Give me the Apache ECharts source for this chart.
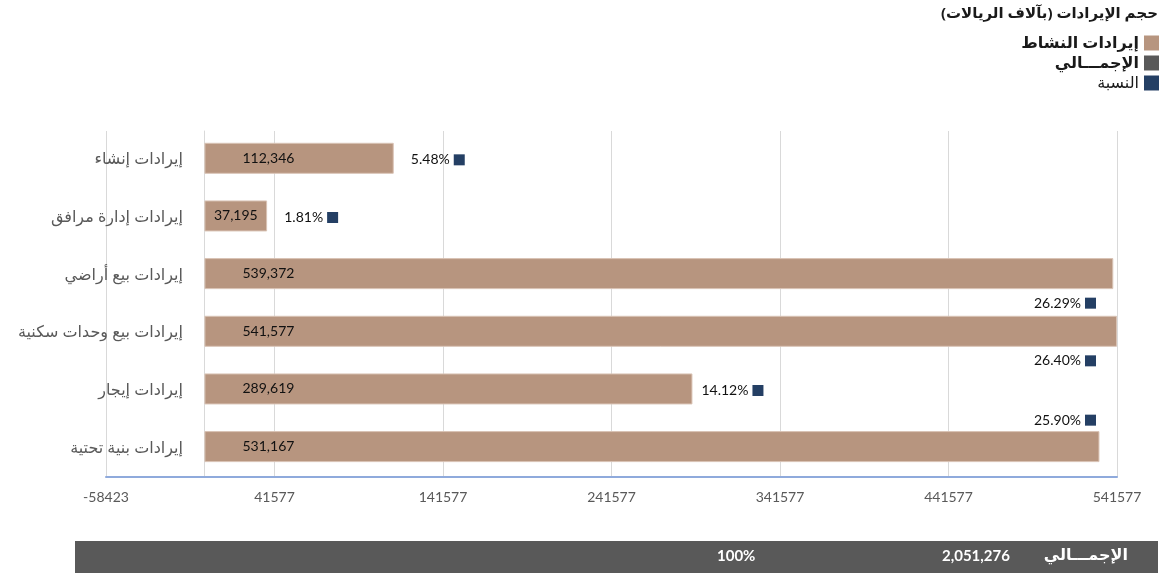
<!DOCTYPE html>
<html>
<head>
<meta charset="utf-8">
<script src="https://cdn.jsdelivr.net/npm/echarts@6/dist/echarts.min.js"></script>
<style>
html,body{margin:0;padding:0;background:#fff;}
#chart{width:1164px;height:573px;}
</style>
</head>
<body>
<div id="chart"></div>
<script>
// ---- data ----
const categories = ['إيرادات إنشاء', 'إيرادات إدارة مرافق', 'إيرادات بيع أراضي', 'إيرادات بيع وحدات سكنية', 'إيرادات إيجار', 'إيرادات بنية تحتية'];
const revenues = [112346, 37195, 539372, 541577, 289619, 531167];
const shares = [5.48, 1.81, 26.29, 26.40, 14.12, 25.90];
const axisMin = -58423;
const axisMax = 541577;
const axisStep = 100000;
const totalLabel = 'الإجمـــالي';
const totalValue = 2051276;
const totalShare = '100%';
const titleText = 'حجم الإيرادات (بآلاف الريالات)';
const seriesNames = ['إيرادات النشاط', 'الإجمـــالي', 'النسبة'];

// ---- style ----
const C_BAR = '#B7957F', C_TOTAL = '#595959', C_PCT = '#243F64';
const NUM_FONT = 'Lato, "Open Sans", sans-serif';
const AR_FONT = '"Noto Sans", "DejaVu Sans", sans-serif';

const fmt = v => v.toLocaleString('en-US');

const chart = echarts.init(document.getElementById('chart'), null, {renderer: 'canvas'});

const barData = revenues.map(v => ({
  value: v,
  label: v > 100000
    ? {position: [64, '50%'], align: 'center', verticalAlign: 'middle'}
    : {position: 'inside'}
}));

const pctData = revenues.map((v, i) => [v, i, shares[i]]);

chart.setOption({
  animation: false,
  backgroundColor: '#fff',
  title: {
    text: titleText, right: 6, top: 6, padding: 0,
    textStyle: {fontSize: 15, fontWeight: 'bold', color: '#1a1a1a', fontFamily: AR_FONT}
  },
  legend: {
    orient: 'vertical', right: 5, top: 34, align: 'right', padding: 0,
    itemWidth: 15, itemHeight: 15, itemGap: 2,
    icon: 'rect',
    itemStyle: {borderWidth: 0},
    data: [
      {name: seriesNames[0]},
      {name: seriesNames[1]},
      {name: seriesNames[2], textStyle: {fontWeight: 'normal'}}
    ],
    textStyle: {fontSize: 16, fontWeight: 'bold', color: '#1a1a1a', fontFamily: AR_FONT, lineHeight: 18}
  },
  grid: {left: 106, right: 47, top: 131, bottom: 96, outerBoundsMode: 'none', containLabel: false},
  xAxis: {
    type: 'value', min: axisMin, max: axisMax, interval: axisStep,
    axisLine: {show: true, onZero: false, lineStyle: {color: '#8FAADC', width: 2}},
    axisTick: {show: false},
    splitLine: {show: true, lineStyle: {color: '#D9D9D9', width: 1}},
    axisLabel: {color: '#595959', fontSize: 14, margin: 13, fontFamily: NUM_FONT, formatter: v => String(v)}
  },
  yAxis: {
    type: 'category', data: categories, inverse: true,
    axisLine: {show: true, onZero: true, lineStyle: {color: '#D9D9D9', width: 1}},
    axisTick: {show: false},
    axisLabel: {color: '#595959', fontSize: 16, margin: -77, fontFamily: AR_FONT}
  },
  series: [
    {
      name: seriesNames[0], type: 'bar', data: barData, barWidth: 31,
      itemStyle: {color: C_BAR, borderColor: '#D9C3B5', borderWidth: 1},
      label: {show: true, color: '#111', fontSize: 14, fontFamily: NUM_FONT, formatter: p => fmt(p.value)}
    },
    {
      name: seriesNames[1], type: 'bar', data: [], itemStyle: {color: C_TOTAL}
    },
    {
      name: seriesNames[2], type: 'custom', itemStyle: {color: C_PCT},
      encode: {x: 0, y: 1},
      data: pctData,
      renderItem: function (params, api) {
        const p = api.coord([api.value(0), api.value(1)]);
        const cs = params.coordSys;
        const gridRight = cs.x + cs.width;
        const n = categories.length;
        const idx = api.value(1);
        let sqLeft, cy;
        if (p[0] + 100 > gridRight) {
          sqLeft = gridRight - 32;
          cy = p[1] + (idx === n - 1 ? -28 : 28);
        } else {
          sqLeft = p[0] + 60;
          cy = p[1];
        }
        return {
          type: 'group',
          children: [
            {type: 'rect', shape: {x: sqLeft, y: cy - 5.5, width: 11, height: 11}, style: {fill: C_PCT}},
            {type: 'text', style: {x: sqLeft - 4, y: cy, text: api.value(2).toFixed(2) + '%', align: 'right', verticalAlign: 'middle', fill: '#111', font: '14px ' + NUM_FONT}}
          ]
        };
      }
    }
  ],
  graphic: [
    {type: 'rect', left: 75, top: 541, shape: {width: 1083, height: 32}, style: {fill: C_TOTAL}},
    {type: 'text', left: 717, top: 549, style: {text: totalShare, fill: '#fff', font: 'bold 15px ' + NUM_FONT}},
    {type: 'text', left: 942, top: 549, style: {text: fmt(totalValue), fill: '#fff', font: 'bold 15px ' + NUM_FONT}},
    {type: 'text', right: 36, top: 547, style: {text: totalLabel, fill: '#fff', font: 'bold 16px ' + AR_FONT}}
  ]
});
</script>
</body>
</html>
